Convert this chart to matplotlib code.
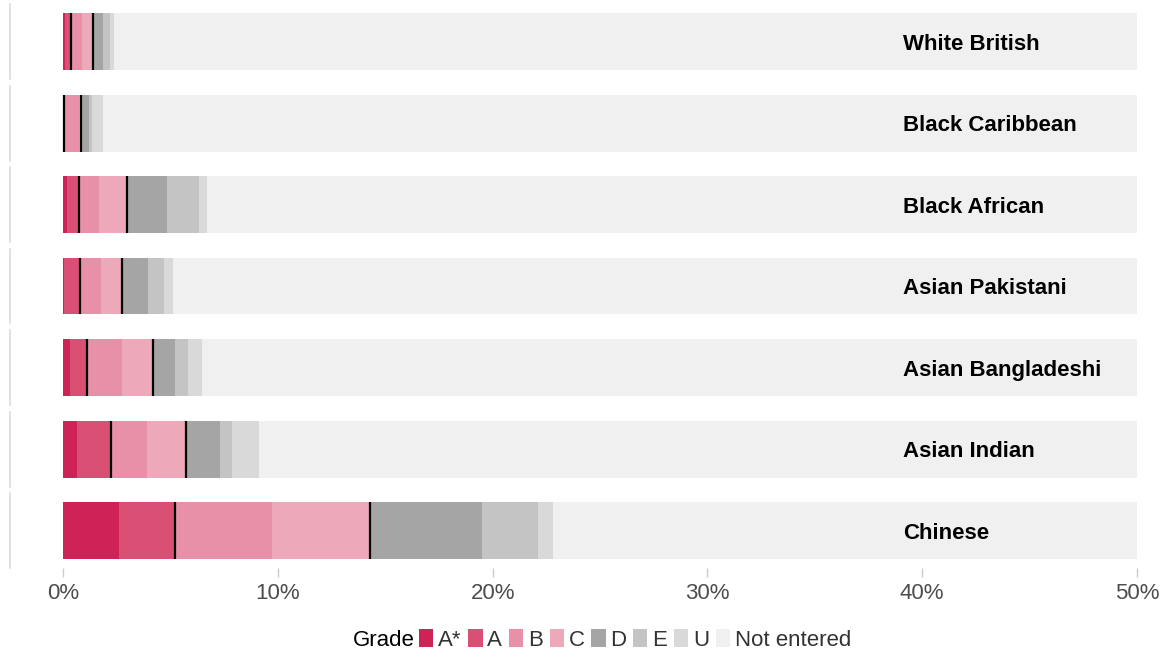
import matplotlib.pyplot as plt
from matplotlib.patches import Patch

plt.rcParams['font.family'] = ['Liberation Sans', 'DejaVu Sans']

# ── data (percent of students) ──
groups = ["White British", "Black Caribbean", "Black African", "Asian Pakistani",
          "Asian Bangladeshi", "Asian Indian", "Chinese"]
grades = ["A*", "A", "B", "C", "D", "E", "U", "Not entered"]
a_star = [0.08, 0.01, 0.17, 0.05, 0.34, 0.65, 2.61]
a_grade = [0.28, 0.02, 0.56, 0.76, 0.79, 1.57, 2.58]
b_grade = [0.51, 0.72, 0.95, 0.96, 1.62, 1.68, 4.56]
c_grade = [0.51, 0.09, 1.32, 0.99, 1.44, 1.83, 4.56]
d_grade = [0.50, 0.39, 1.83, 1.21, 1.04, 1.59, 5.21]
e_grade = [0.31, 0.11, 1.51, 0.74, 0.59, 0.56, 2.61]
u_grade = [0.20, 0.51, 0.36, 0.42, 0.64, 1.24, 0.66]
not_entered = [97.61, 98.15, 93.30, 94.87, 93.54, 90.88, 77.21]

colours = ["#cf2357", "#d95074", "#e790a7", "#eda8b9",
           "#a5a5a5", "#c4c4c4", "#d9d9d9", "#f0f0f0"]

W, H = 1168, 654
fig = plt.figure(figsize=(W / 100, H / 100), dpi=100)

X0, X1 = 10, 1137          # panel left/right in px
XMIN, XMAX = -2.47, 50
PANEL_TOP, STEP, PANEL_H = 4, 81.5, 75

series = [a_star, a_grade, b_grade, c_grade, d_grade, e_grade, u_grade, not_entered]

for i, name in enumerate(groups):
    top = PANEL_TOP + i * STEP
    ax = fig.add_axes([X0 / W, 1 - (top + PANEL_H) / H, (X1 - X0) / W, PANEL_H / H])
    ax.set_xlim(XMIN, XMAX)
    ax.set_ylim(0, 1)

    left = 0
    for vals, col in zip(series, colours):
        ax.barh(0.5, vals[i], left=left, height=0.76, color=col, linewidth=0)
        left += vals[i]

    # black markers: cumulative A*-A and A*-C
    cum_a = a_star[i] + a_grade[i]
    cum_c = cum_a + b_grade[i] + c_grade[i]
    for v in (cum_a, cum_c):
        ax.plot([v, v], [0.12, 0.88], color="black", lw=1.6, solid_capstyle="butt")

    ax.text(39.1, 0.393, name, ha="left", va="baseline", fontsize=16,
            fontweight="bold", color="black")

    for s in ("top", "right", "bottom"):
        ax.spines[s].set_visible(False)
    ax.spines["left"].set_color("#dcdcdc")
    ax.spines["left"].set_linewidth(1.2)
    ax.set_yticks([])

    if i == len(groups) - 1:
        ticks = [0, 10, 20, 30, 40, 50]
        ax.set_xticks(ticks)
        ax.set_xticklabels([f"{t}%" for t in ticks])
        ax.tick_params(axis="x", length=6.5, width=1, color="#cccccc",
                       labelcolor="#4d4d4d", labelsize=16, pad=4)
    else:
        ax.set_xticks([])

# ── legend ──
handles = [Patch(facecolor=c, edgecolor="none", label=g) for g, c in zip(grades, colours)]
fig.text(415 / W, 1 - 640 / H, "Grade", ha="right", va="center", fontsize=16, color="black")
fig.legend(handles=handles, loc="center left", bbox_to_anchor=(419 / W, 1 - 640 / H),
           ncol=8, frameon=False, fontsize=16, handlelength=0.64, handleheight=0.86,
           handletextpad=0.22, columnspacing=0.3, borderpad=0, borderaxespad=0,
           labelcolor="#333333")

fig.savefig("out.png", dpi=100)
